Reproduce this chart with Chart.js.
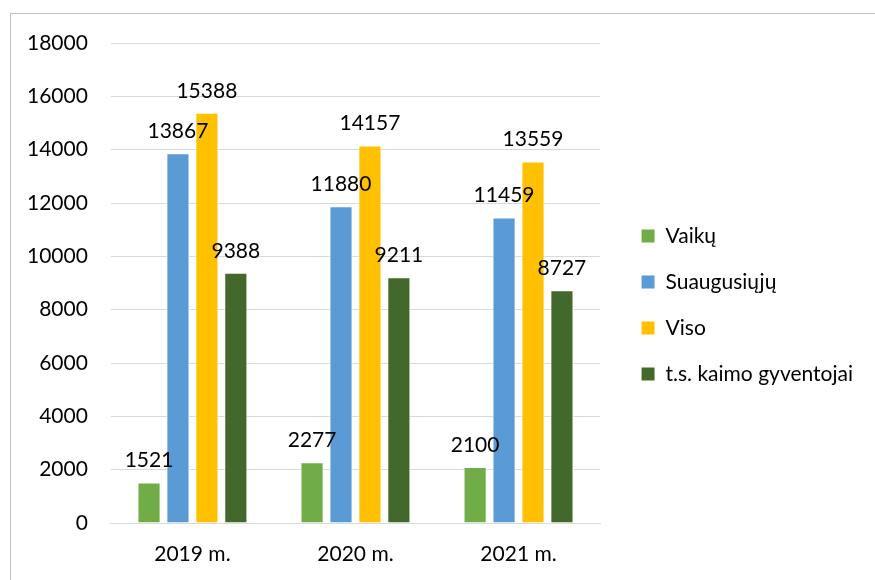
<!DOCTYPE html>
<html>
<head>
<meta charset="utf-8">
<script src="https://cdn.jsdelivr.net/npm/chart.js@4.4.0/dist/chart.umd.min.js"></script>
<style>
  body { margin: 0; background: #fff; font-family: Lato, sans-serif; }
  #wrap { position: relative; width: 875px; height: 580px; }
  #ramka { position: absolute; left: 10px; top: 13px; right: -5px; bottom: -5px;
           border-left: 1px solid #bfbfbf; border-top: 1px solid #bfbfbf; }
  canvas { position: absolute; left: 0; top: 0; }
</style>
</head>
<body>
<div id="wrap">
  <div id="ramka"></div>
  <canvas id="grafikas" width="875" height="580"></canvas>
</div>
<script>
// duomenys
const metai = ['2019 m.', '2020 m.', '2021 m.'];
const vaiku = [1521, 2277, 2100];
const suaugusiuju = [13867, 11880, 11459];
const viso = [15388, 14157, 13559];
const kaimo = [9388, 9211, 8727];

const sriftas = 'Lato, "Open Sans", sans-serif';

// reiksmes virs stulpeliu
const reiksmes = {
  id: 'reiksmes',
  afterDatasetsDraw(chart) {
    const ctx = chart.ctx;
    ctx.save();
    ctx.font = '21px ' + sriftas;
    ctx.fillStyle = '#000';
    ctx.textAlign = 'center';
    ctx.textBaseline = 'alphabetic';
    chart.data.datasets.forEach((ds, i) => {
      chart.getDatasetMeta(i).data.forEach((bar, j) => {
        ctx.fillText(ds.data[j], bar.x, bar.y - 15);
      });
    });
    ctx.restore();
  }
};

function piesti() {
  const ctx = document.getElementById('grafikas').getContext('2d');
  new Chart(ctx, {
    type: 'bar',
    data: {
      labels: metai,
      datasets: [
        { label: 'Vaikų', data: vaiku, backgroundColor: '#70AD47' },
        { label: 'Suaugusiųjų', data: suaugusiuju, backgroundColor: '#5B9BD5' },
        { label: 'Viso', data: viso, backgroundColor: '#FFC000' },
        { label: 't.s. kaimo gyventojai', data: kaimo, backgroundColor: '#43682B' }
      ]
    },
    options: {
      responsive: false,
      animation: false,
      datasets: {
        bar: { categoryPercentage: 0.71, barPercentage: 0.8, borderColor: '#fff', borderWidth: 1 }
      },
      layout: { padding: { left: 4, top: 43, right: 12, bottom: 13 } },
      plugins: {
        legend: {
          position: 'right',
          maxWidth: 262,
          labels: {
            font: { family: sriftas, size: 21 },
            color: '#000',
            boxWidth: 14,
            boxHeight: 14,
            padding: 25
          }
        },
        tooltip: { enabled: false }
      },
      scales: {
        x: {
          grid: { display: false, drawTicks: false },
          border: { color: '#d9d9d9', width: 1 },
          ticks: { font: { family: sriftas, size: 21 }, color: '#000', padding: 19 },
          afterFit: s => { s.height = 44; }
        },
        y: {
          min: 0,
          max: 18000,
          grid: { color: '#d9d9d9', drawTicks: false },
          border: { display: false },
          ticks: {
            stepSize: 2000,
            font: { family: sriftas, size: 21 },
            color: '#000',
            padding: 23,
            callback: v => String(v)
          }
        },
        // tarpas tarp grafiko ir legendos
        tarpas: {
          type: 'linear',
          position: 'right',
          display: true,
          grid: { display: false },
          border: { display: false },
          ticks: { display: false },
          afterFit: s => { s.width = 16; }
        }
      }
    },
    plugins: [reiksmes]
  });
}

document.fonts.load('21px Lato').then(piesti, piesti);
</script>
</body>
</html>
